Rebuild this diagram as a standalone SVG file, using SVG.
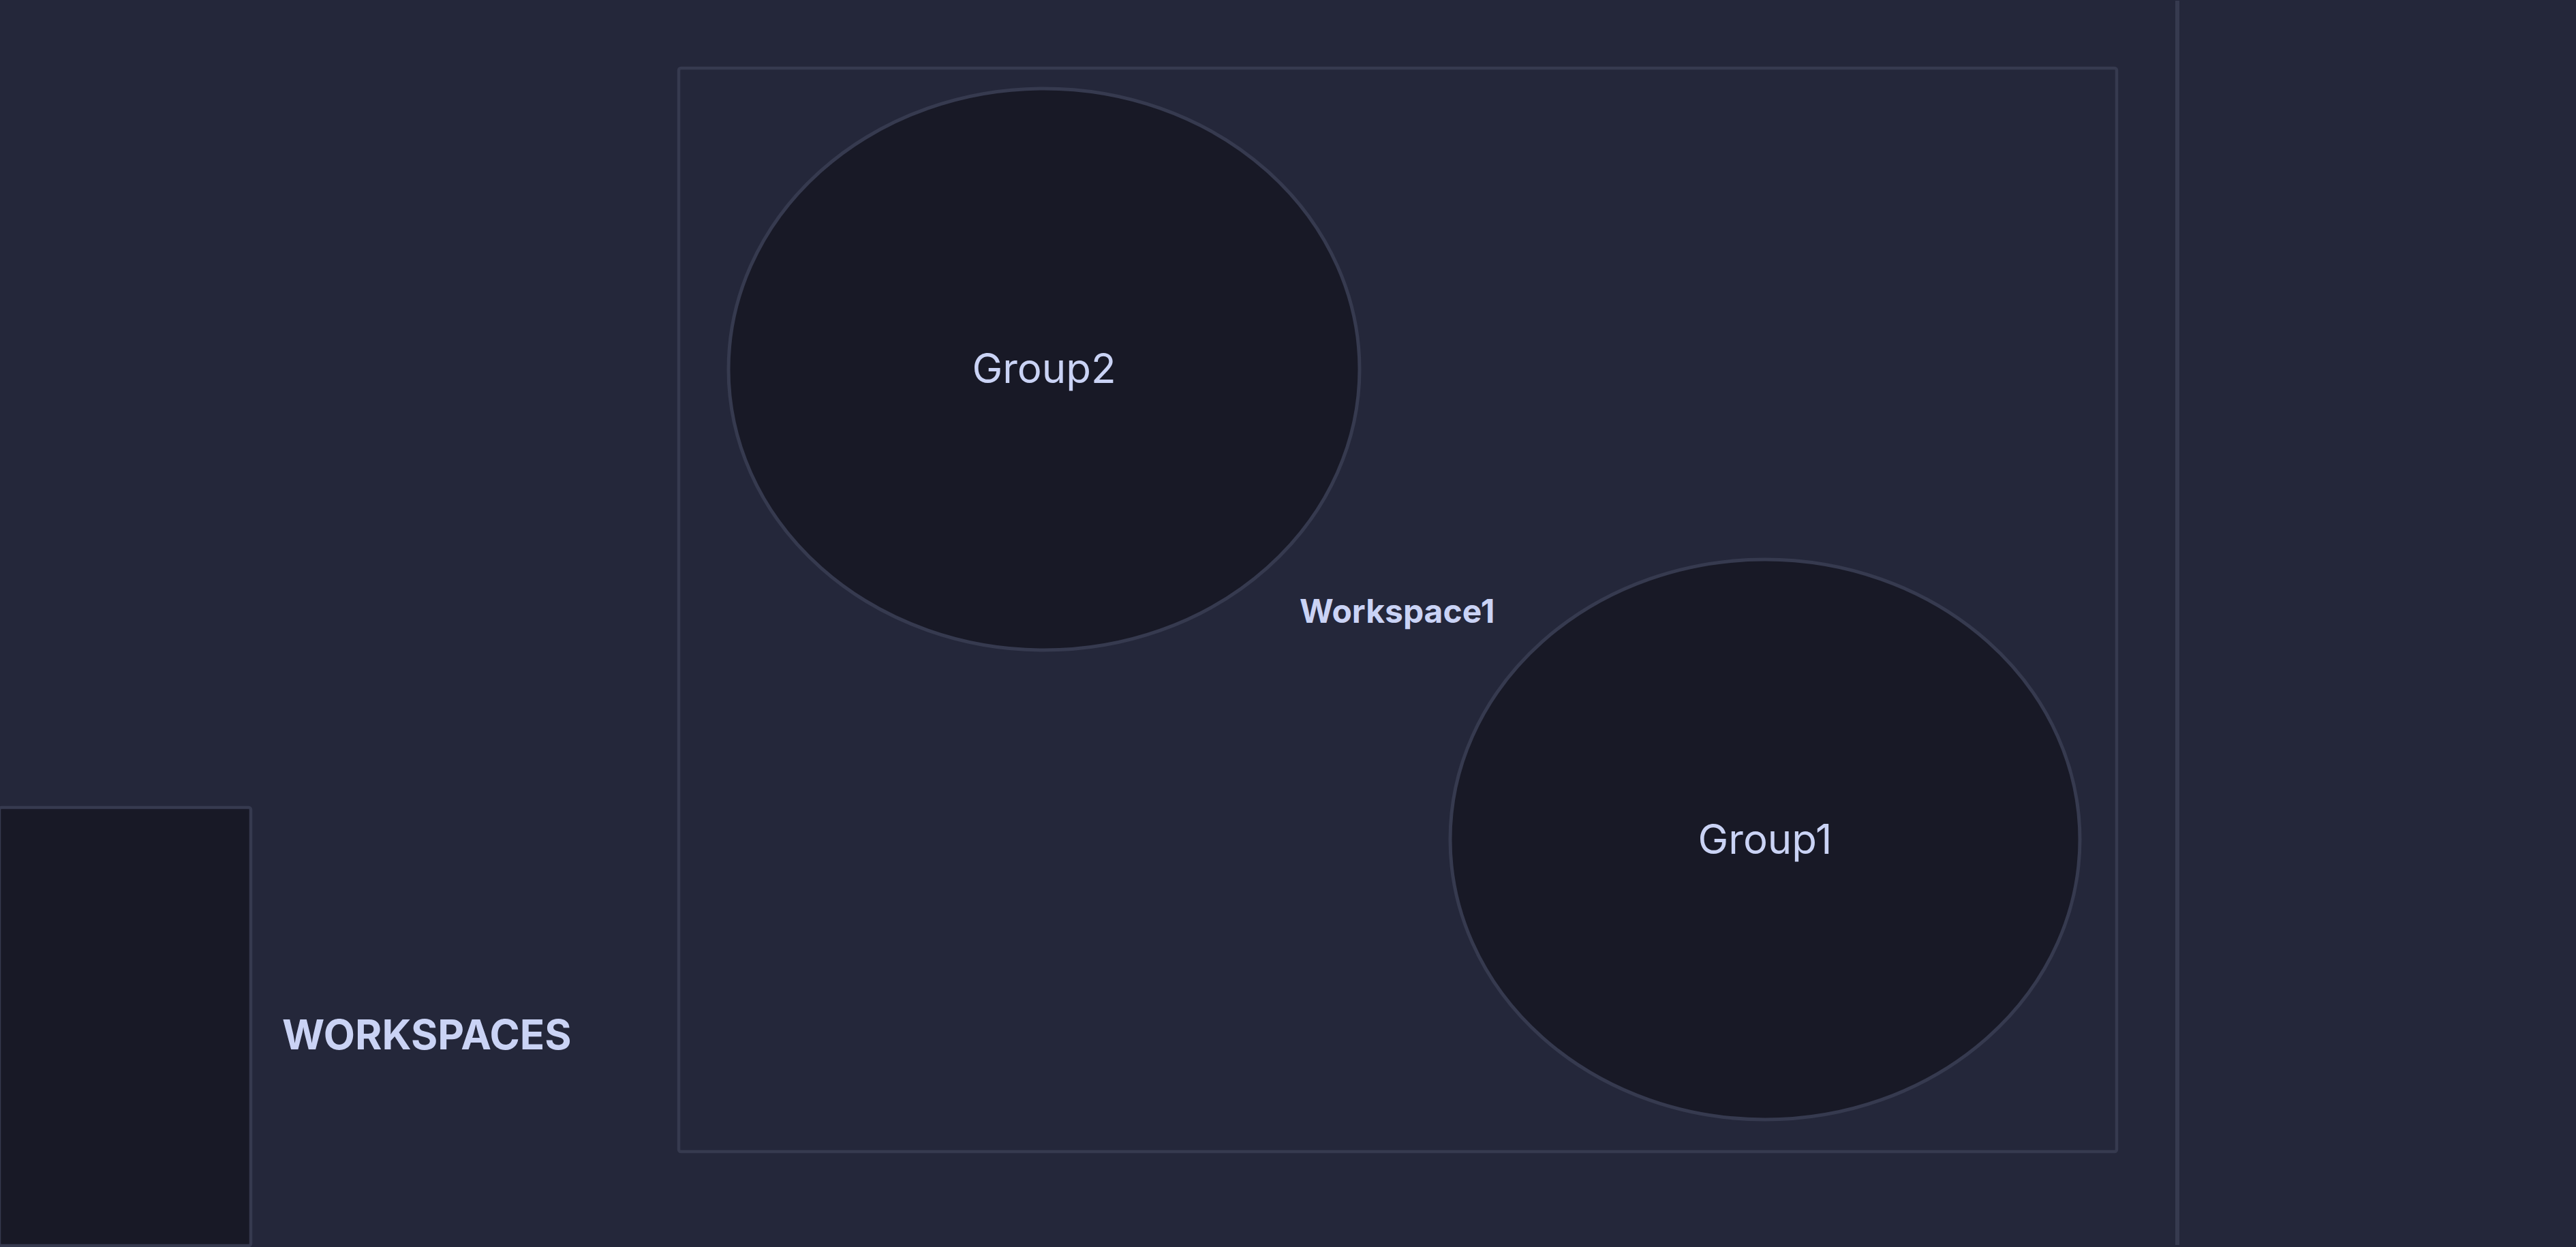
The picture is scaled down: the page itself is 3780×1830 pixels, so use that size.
<svg xmlns="http://www.w3.org/2000/svg" width="3780" height="1830" viewBox="0 0 3780 1830">
  <style>
    .bg { fill: #24273a; }
    .frame { fill: none; stroke: #363a4f; stroke-width: 4.5; }
    .node { fill: #181926; stroke: #363a4f; stroke-width: 5; }
    .panel { fill: #181926; stroke: #363a4f; stroke-width: 4.5; }
    .divider { stroke: #363a4f; stroke-width: 6; }
    .label { font-family: Inter, "Liberation Sans", sans-serif; fill: #cad3f5; }
    .node-label { font-size: 60px; font-weight: 400; text-anchor: middle; }
    .title { font-weight: 700; }
  </style>
  <rect class="bg" x="0" y="0" width="3780" height="1830"/>

  <g id="divider">
    <line class="divider" x1="3195" y1="1" x2="3195" y2="1827"/>
  </g>

  <g id="workspaces-panel">
    <rect class="panel" x="-1" y="1185" width="369" height="643" rx="3"/>
    <text class="label title" x="414" y="1540" font-size="60">WORKSPACES</text>
  </g>

  <g id="workspace1">
    <rect class="frame" x="996" y="100" width="2110" height="1590" rx="3"/>
    <text class="label title" x="1907" y="914" font-size="48">Workspace1</text>
  </g>

  <g id="group2">
    <ellipse class="node" cx="1532" cy="542" rx="463" ry="412"/>
    <text class="label node-label" x="1532" y="562">Group2</text>
  </g>

  <g id="group1">
    <ellipse class="node" cx="2590" cy="1232" rx="462" ry="411"/>
    <text class="label node-label" x="2590" y="1253">Group1</text>
  </g>

  <g id="connectors"/>
</svg>
